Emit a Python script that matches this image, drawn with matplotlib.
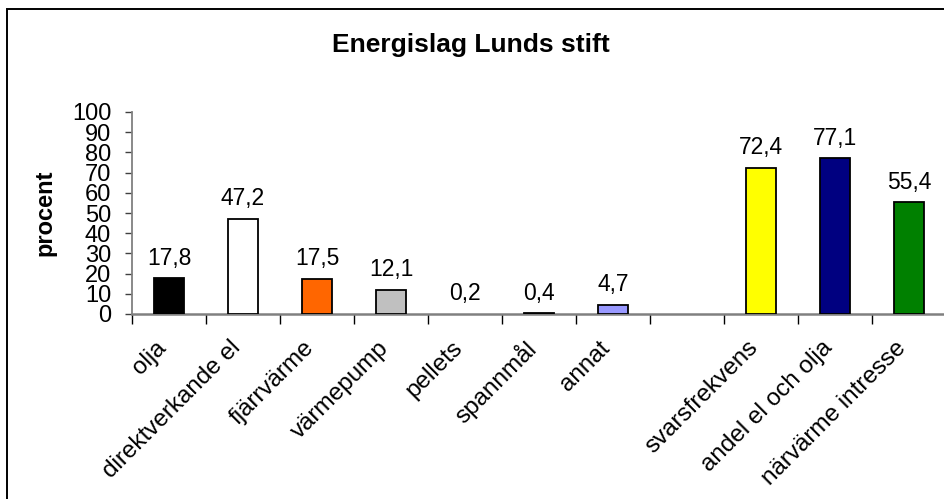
import numpy as np
import matplotlib
matplotlib.use("Agg")
from matplotlib import pyplot as plt
from matplotlib.patches import Rectangle
from matplotlib.transforms import ScaledTranslation

plt.rcParams['font.family'] = ['Liberation Sans', 'DejaVu Sans']

# data
kategorier = ['olja', 'direktverkande el', 'fjärrvärme', 'värmepump', 'pellets',
              'spannmål', 'annat', '', 'svarsfrekvens', 'andel el och olja',
              'närvärme intresse']
procent = [17.8, 47.2, 17.5, 12.1, 0.2, 0.4, 4.7, np.nan, 72.4, 77.1, 55.4]
etiketter = ['17,8', '47,2', '17,5', '12,1', '0,2', '0,4', '4,7', '', '72,4', '77,1', '55,4']
farger = ['#000000', '#FFFFFF', '#FF6600', '#C0C0C0', '#FFFFFF', '#000000',
          '#9999FF', '#FFFFFF', '#FFFF00', '#000080', '#008000']

fig = plt.figure(figsize=(9.44, 4.99), dpi=100)
ax = fig.add_axes([132/944, 1-314/499, 814/944, 202/499])

x = np.arange(len(kategorier))
for i in range(len(x)):
    if np.isnan(procent[i]):
        continue
    lw = 1.3
    if kategorier[i] == 'pellets':
        lw = 0
    ax.bar(x[i], procent[i], width=0.41, color=farger[i], edgecolor='black', linewidth=lw, zorder=3)
    ax.annotate(etiketter[i], (x[i], procent[i]), xytext=(0, 6), textcoords='offset points',
                ha='center', va='bottom', fontsize=16.5)

ax.set_xlim(-0.5, len(x) - 0.5)
ax.set_ylim(0, 100)
ax.set_yticks(np.arange(0, 101, 10))
ax.tick_params(axis='y', labelsize=17, length=5, width=1, color='#404040', pad=10)

# gränsmarkeringar mellan kategorier + etiketter i mitten
ax.set_xticks(np.arange(len(x)) - 0.5)
ax.set_xticklabels([])
ax.tick_params(axis='x', which='major', length=7, width=1, color='black', direction='out')
ax.set_xticks(x, minor=True)
ax.set_xticklabels(kategorier, minor=True, rotation=45, ha='right', va='center',
                   rotation_mode='anchor', fontsize=17.5)
ax.tick_params(axis='x', which='minor', length=0, pad=22)
for lab in ax.get_xticklabels(minor=True):
    lab.set_transform(lab.get_transform() + ScaledTranslation(-6/100, 0, fig.dpi_scale_trans))

for s in ['top', 'right']:
    ax.spines[s].set_visible(False)
ax.spines['left'].set_color('#808080')
ax.spines['bottom'].set_color('#808080')
ax.spines['left'].set_linewidth(1.3)
ax.spines['bottom'].set_linewidth(1.8)

fig.text(471/944, 1-45/499, 'Energislag Lunds stift', ha='center', va='center',
         fontsize=19, fontweight='bold')
fig.text(45/944, 1-213/499, 'procent', ha='center', va='center', rotation=90,
         fontsize=17, fontweight='bold')

# ram runt diagrammet
fig.patches.append(Rectangle((7/944, -0.1), 1.2, 1-9/499+0.1, transform=fig.transFigure,
                             fill=False, edgecolor='black', linewidth=1.4))

fig.savefig('out.png', dpi=100)
